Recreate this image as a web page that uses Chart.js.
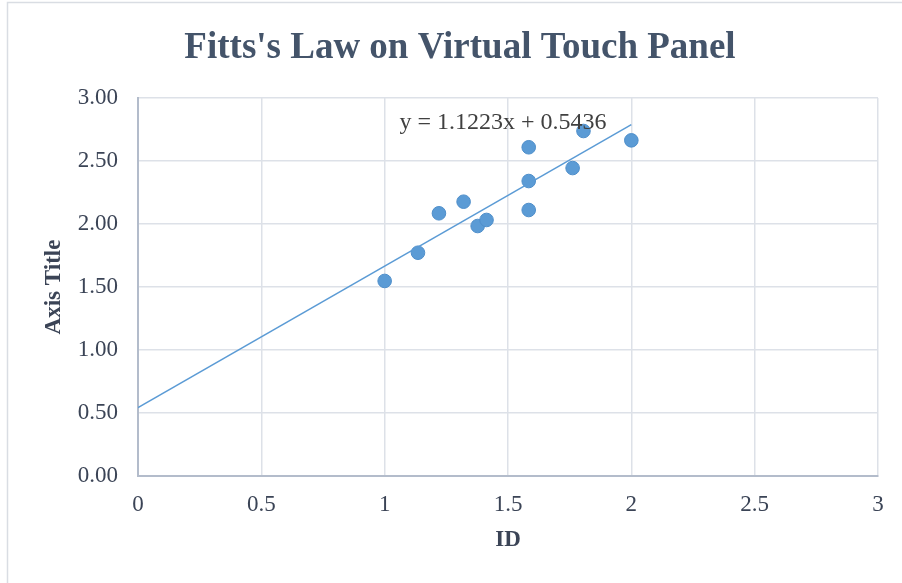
<!DOCTYPE html>
<html>
<head>
<meta charset="utf-8">
<title>Fitts's Law on Virtual Touch Panel</title>
<script src="https://cdn.jsdelivr.net/npm/chart.js@4/dist/chart.umd.min.js"></script>
<style>
  html, body { margin: 0; padding: 0; background: #fff; }
  canvas { display: block; }
</style>
</head>
<body>
<canvas id="fitts" width="902" height="583"></canvas>
<script>
// measured points (ID vs movement time)
const idValues = [1.0, 1.135, 1.22, 1.32, 1.377, 1.413, 1.584, 1.584, 1.584, 1.762, 1.806, 2.0]
const timeValues = [1.548, 1.772, 2.085, 2.177, 1.984, 2.032, 2.609, 2.341, 2.111, 2.444, 2.738, 2.664]

// linear trendline as shown in the chart
const slope = 1.1223
const intercept = 0.5436
const trendFrom = 0
const trendTo = 2

const xTickLabels = ['0', '0.5', '1', '1.5', '2', '2.5', '3']
const yTickLabels = ['0.00', '0.50', '1.00', '1.50', '2.00', '2.50', '3.00']

const serif = "'Liberation Serif', 'Times New Roman', serif"
const textColor = '#3b4456'

const points = idValues.map((x, i) => ({ x: x, y: timeValues[i] }))
const trend = [
  { x: trendFrom, y: slope * trendFrom + intercept },
  { x: trendTo, y: slope * trendTo + intercept }
]

// white background + light frame around the chart
const framePlugin = {
  id: 'frame',
  beforeDraw(chart) {
    const ctx = chart.ctx
    ctx.save()
    ctx.fillStyle = '#fff'
    ctx.fillRect(0, 0, chart.width, chart.height)
    ctx.strokeStyle = '#d9dde3'
    ctx.lineWidth = 1.5
    ctx.strokeRect(7.5, 2.5, chart.width + 20, chart.height + 20)
    ctx.restore()
  }
}

// equation label of the trendline
const equationPlugin = {
  id: 'equation',
  afterDatasetsDraw(chart) {
    const ctx = chart.ctx
    const xs = chart.scales.x, ys = chart.scales.y
    ctx.save()
    ctx.font = '24px ' + serif
    ctx.fillStyle = '#404040'
    ctx.textAlign = 'center'
    ctx.textBaseline = 'alphabetic'
    ctx.fillText('y = ' + slope.toFixed(4) + 'x + ' + intercept.toFixed(4),
      xs.getPixelForValue(1.48), ys.getPixelForValue(2.755))
    ctx.restore()
  }
}

const ctx = document.getElementById('fitts').getContext('2d')
new Chart(ctx, {
  type: 'scatter',
  data: {
    datasets: [
      {
        label: 'Trendline',
        type: 'line',
        data: trend,
        borderColor: '#5b9bd5',
        borderWidth: 1.5,
        pointRadius: 0,
        fill: false,
        order: 0
      },
      {
        label: 'MT',
        data: points,
        backgroundColor: '#5b9bd5',
        borderColor: '#4f8fcb',
        borderWidth: 1,
        pointRadius: 6.8,
        order: 1
      }
    ]
  },
  options: {
    responsive: false,
    animation: false,
    layout: { padding: { left: 42, right: 24, top: 0, bottom: 0 } },
    plugins: {
      legend: { display: false },
      tooltip: { enabled: false },
      title: {
        display: true,
        text: "Fitts's Law on Virtual Touch Panel",
        color: '#44546a',
        font: { family: serif, size: 37, weight: 'bold', lineHeight: 1.2 },
        padding: { top: 26, bottom: 27.6 }
      }
    },
    scales: {
      x: {
        type: 'linear',
        min: 0,
        max: 3,
        afterFit(scale) { scale.height = 107 },
        ticks: {
          stepSize: 0.5,
          padding: 15,
          color: textColor,
          font: { family: serif, size: 23, lineHeight: 1.2 },
          callback: (v, i) => xTickLabels[i]
        },
        grid: { color: '#dde1e8', lineWidth: 1.5, drawTicks: false },
        border: { color: '#b3bccb', width: 2 },
        title: {
          display: true,
          text: 'ID',
          color: textColor,
          font: { family: serif, size: 23, weight: 'bold', lineHeight: 1.2 },
          padding: { top: 0, bottom: 29 }
        }
      },
      y: {
        min: 0,
        max: 3,
        afterFit(scale) { scale.width = 96 },
        ticks: {
          stepSize: 0.5,
          padding: 20,
          color: textColor,
          font: { family: serif, size: 23, lineHeight: 1.2 },
          callback: (v, i) => yTickLabels[i]
        },
        grid: { color: '#dde1e8', lineWidth: 1.5, drawTicks: false },
        border: { color: '#b3bccb', width: 2 },
        title: {
          display: true,
          text: 'Axis Title',
          color: textColor,
          font: { family: serif, size: 23, weight: 'bold', lineHeight: 1.2 },
          padding: { top: -2, bottom: 0 }
        }
      }
    }
  },
  plugins: [framePlugin, equationPlugin]
})
</script>
</body>
</html>
